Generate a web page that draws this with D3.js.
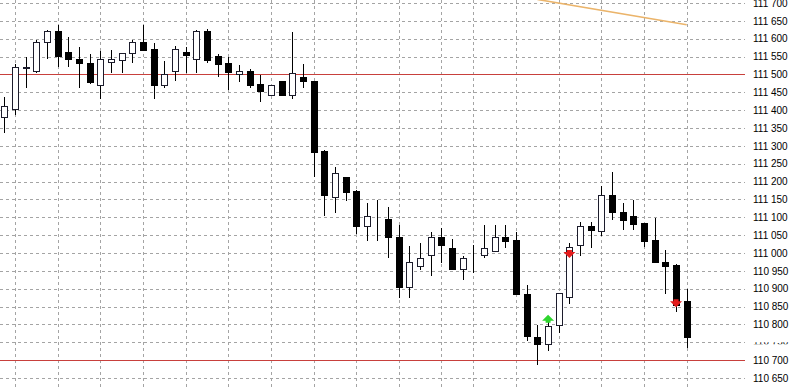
<!DOCTYPE html>
<html>
<head>
<meta charset="utf-8">
<script src="https://cdn.jsdelivr.net/npm/d3@7"></script>
<style>
  body { margin:0; background:#fff; }
  svg { display:block; }
  .yaxis text { font-family:"Liberation Sans", Arial, sans-serif; font-size:10px; fill:#000; }
</style>
</head>
<body>
<div id="chart"></div>
<script>
// bar data, one value per candle (left to right)
const opens  = [111382,111403,111519,111509,111591,111621,111562,111542,111533,111470,
                111533,111542,111561,111591,111572,111470,111509,111562,111542,111621,
                111553,111533,111503,111509,111472,111442,111481,111442,111493,111483,
                111285,111155,111214,111175,111076,111096,111094,111045,110904,110964,
                110994,111045,111014,110955,110987,110994,111005,111045,111035,110885,
                110766,110746,110797,110877,111024,111076,111063,111163,111116,111105,
                111084,111036,110975,110966,110866];
const highs  = [111440,111533,111551,111600,111628,111642,111609,111579,111559,111568,
                111570,111561,111600,111642,111590,111540,111581,111579,111628,111630,
                111561,111551,111530,111519,111500,111470,111481,111621,111531,111485,
                111291,111243,111214,111180,111143,111152,111131,111082,111022,111031,
                111062,111073,111042,110994,111024,111080,111080,111080,111063,110912,
                110801,110827,110887,111031,111091,111091,111191,111231,111143,111152,
                111084,111100,111012,110973,110901];
const lows   = [111338,111389,111466,111507,111547,111523,111523,111466,111475,111433,
                111507,111507,111535,111568,111433,111466,111484,111507,111507,111535,
                111495,111460,111483,111466,111426,111442,111442,111433,111466,111215,
                111106,111116,111147,111057,111036,111036,110989,110878,110878,110955,
                110938,110975,110955,110927,110946,110989,111005,111017,110885,110757,
                110690,110729,110778,110860,110995,111017,111051,111096,111066,111066,
                111020,110975,110887,110838,110736];
const closes = [111412,111520,111521,111591,111621,111550,111542,111531,111481,111542,
                111542,111561,111591,111570,111472,111502,111572,111553,111621,111540,
                111531,111509,111511,111470,111452,111470,111442,111503,111481,111284,
                111161,111223,111172,111076,111104,111097,111043,110904,110975,110987,
                111045,111024,110955,110987,110988,111014,111045,111033,110885,110766,
                110746,110797,110887,111016,111076,111065,111163,111115,111093,111082,
                111033,110975,110964,110854,110766];

// bars that carry a vertical grid line (session boundaries)
const gridBars = [1,5,9,13,17,21,25,29,33,37,41,44,48,52,56,60,64];
// price scale labels
const priceTicks = [111700,111650,111600,111550,111500,111450,111400,111350,111300,111250,
                    111200,111150,111100,111050,111000,110950,110900,110850,110800,110750,
                    110700,110650];
const hiddenTick = 110750;
// horizontal levels and trend line [bar, price]
const levels = [111502, 110700];
const trend = [[50, 111710], [64, 111639]];
// signal arrows [bar, price of tip]
const arrowsUp = [[51, 110827]];
const arrowsDown = [[53, 110986], [63, 110848]];

const W = 800, H = 387, plotRight = 745;

const svg = d3.select("#chart").append("svg")
  .attr("width", W).attr("height", H);

const x = d3.scaleLinear().domain([0, opens.length-1]).range([4.3, 686.7]);
const y = d3.scaleLinear().domain([110650, 111700]).range([378, 3]);
const px = v => Math.round(v) + 0.5;

svg.append("clipPath").attr("id","plot")
  .append("rect").attr("width", plotRight).attr("height", H);

// grid
const grid = svg.append("g").attr("class","grid")
  .attr("stroke","#a4a4a4").attr("stroke-dasharray","3,3")
  .attr("shape-rendering","crispEdges");
grid.selectAll("line.h").data(priceTicks).enter().append("line")
  .attr("class","h")
  .attr("x1",0).attr("x2",plotRight)
  .attr("y1",d => px(y(d))).attr("y2",d => px(y(d)));
grid.selectAll("line.v").data(gridBars).enter().append("line")
  .attr("class","v")
  .attr("y1",0).attr("y2",H)
  .attr("x1",d => px(x(d))).attr("x2",d => px(x(d)));

// levels
svg.append("g").selectAll("line").data(levels).enter().append("line")
  .attr("x1",0).attr("x2",plotRight)
  .attr("y1",d => px(y(d))).attr("y2",d => px(y(d)))
  .attr("stroke","#c8403c").attr("shape-rendering","crispEdges");

// trend line
svg.append("line")
  .attr("clip-path","url(#plot)")
  .attr("x1",x(trend[0][0])).attr("y1",y(trend[0][1]))
  .attr("x2",x(trend[1][0])).attr("y2",y(trend[1][1]))
  .attr("stroke","#ebb46a").attr("stroke-width",1.5);

// candles
const bars = svg.append("g").attr("class","candles").attr("shape-rendering","crispEdges")
  .selectAll("g").data(d3.range(opens.length)).enter().append("g");

bars.append("line")
  .attr("x1",i => px(x(i))).attr("x2",i => px(x(i)))
  .attr("y1",i => px(y(highs[i]))).attr("y2",i => px(y(lows[i])))
  .attr("stroke","#000");

bars.append("rect")
  .attr("x",i => px(x(i)) - 3)
  .attr("width",6)
  .attr("y",i => px(y(Math.max(opens[i],closes[i]))))
  .attr("height",i => Math.round(Math.abs(y(opens[i]) - y(closes[i]))))
  .attr("fill",i => closes[i] >= opens[i] ? "#fff" : "#000")
  .attr("stroke",i => closes[i] >= opens[i] ? "#1c1c2c" : "#000");

// arrows
const arrow = (g, up, color) => g.append("path")
  .attr("d", d => {
    const cx = x(d[0]), ty = y(d[1]), s = up ? 1 : -1;
    return "M"+(cx)+","+ty+" L"+(cx+6)+","+(ty+6*s)+" L"+(cx+2.5)+","+(ty+6*s)
      +" L"+(cx+2.5)+","+(ty+8*s)+" L"+(cx-2.5)+","+(ty+8*s)+" L"+(cx-2.5)+","+(ty+6*s)
      +" L"+(cx-6)+","+(ty+6*s)+"Z";
  })
  .attr("fill",color);
arrow(svg.append("g").selectAll("path").data(arrowsUp).enter(), true, "#2ed52e");
arrow(svg.append("g").selectAll("path").data(arrowsDown).enter(), false, "#e41c1c");

// price axis
const fmt = d => d3.format(",")(d).replace(",", " ");
const ax = svg.append("g").attr("class","yaxis")
  .attr("transform","translate(753,0)")
  .call(d3.axisRight(y).tickValues(priceTicks).tickSize(0).tickPadding(0).tickFormat(fmt));
ax.select(".domain").remove();

// the 110 750 label is almost fully covered in the original
svg.append("clipPath").attr("id","hidden")
  .append("rect").attr("x",0).attr("width",60)
  .attr("y",y(hiddenTick)).attr("height",2);
ax.selectAll(".tick").filter(d => d === hiddenTick)
  .attr("transform",null)
  .select("text").attr("y",y(hiddenTick))
  .attr("clip-path","url(#hidden)");
</script>
</body>
</html>
